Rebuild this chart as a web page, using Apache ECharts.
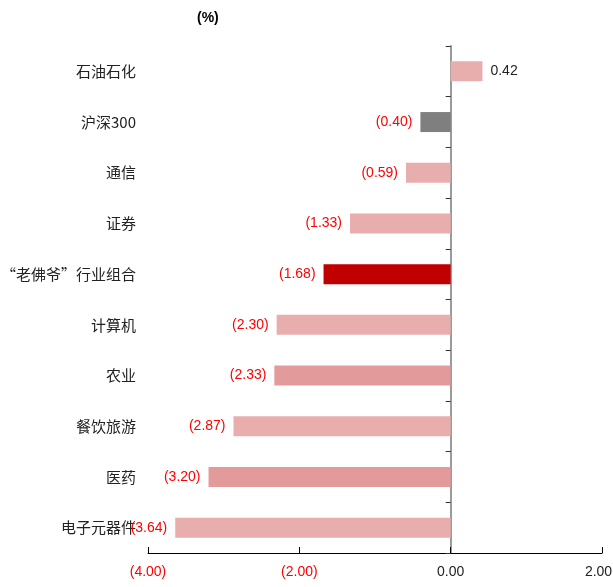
<!DOCTYPE html>
<html>
<head>
<meta charset="utf-8">
<script src="https://cdn.jsdelivr.net/npm/echarts@6/dist/echarts.min.js"></script>
<style>
  html, body { margin: 0; padding: 0; background: #fff; }
  #chart { width: 613px; height: 587px; }
</style>
</head>
<body>
<div id="chart"></div>
<script>
// Weekly returns by sector (%)
const categories = ['石油石化', '沪深300', '通信', '证券', '“老佛爷”行业组合', '计算机', '农业', '餐饮旅游', '医药', '电子元器件'];
const returns = [0.42, -0.40, -0.59, -1.33, -1.68, -2.30, -2.33, -2.87, -3.20, -3.64];
const xTicks = [-4, -2, 0, 2];

const numFont = '"Liberation Sans Narrow", "Arial Narrow", "Liberation Sans", Arial, sans-serif';
const cjkFont = '"Noto Sans CJK SC", sans-serif';

// accounting-style number: negatives in parentheses
function fmt(v) {
  const s = Math.abs(v).toFixed(2);
  return v < 0 ? '(' + s + ')' : s;
}

function barColor(name) {
  if (name === '沪深300') return '#7f7f7f';
  if (name === '“老佛爷”行业组合') return '#c00000';
  if (name === '农业' || name === '医药') return '#e39a9a';
  return '#e8aeae';
}

const xMax = xTicks[xTicks.length - 1];

const chart = echarts.init(document.getElementById('chart'), null, { renderer: 'canvas' });

chart.setOption({
  animation: false,
  graphic: [{
    type: 'text',
    left: 197,
    top: 11,
    style: { text: '(%)', font: 'bold 14px ' + numFont, fill: '#000' }
  }],
  grid: { left: 148, right: 11, top: 46, bottom: 34, containLabel: false, outerBoundsMode: 'none' },
  xAxis: {
    type: 'value',
    min: xTicks[0],
    max: xMax,
    interval: 2,
    splitLine: { show: false },
    axisLine: { show: true, onZero: false, lineStyle: { color: '#000', width: 1 } },
    axisTick: { show: true, inside: true, length: 6, lineStyle: { color: '#000' } },
    axisLabel: {
      margin: 12,
      fontFamily: numFont,
      fontSize: 14,
      // the last label is nudged inward so it stays on the canvas
      formatter: v => (v === xMax ? '{edge|' + fmt(v) + '}' : fmt(v)),
      color: v => (v < 0 ? '#ff0000' : '#222'),
      rich: { edge: { fontFamily: numFont, fontSize: 14, color: '#222', padding: [0, 7, 0, 0] } }
    }
  },
  yAxis: [{
    type: 'category',
    data: categories,
    inverse: true,
    position: 'left',
    axisLine: { show: false, onZero: false },
    axisTick: { show: false },
    axisLabel: { margin: 12, fontFamily: cjkFont, fontSize: 15, color: '#222' }
  }, {
    type: 'category',
    data: categories,
    inverse: true,
    position: 'right',
    axisLine: { show: true, onZero: true, onZeroAxisIndex: 0, lineStyle: { color: '#9a9a9a', width: 2 } },
    axisTick: { show: true, inside: true, length: 5, lineStyle: { color: '#333' } },
    axisLabel: { show: false }
  }],
  series: [{
    type: 'bar',
    yAxisIndex: 0,
    barWidth: 20,
    itemStyle: { color: p => barColor(p.name) },
    label: {
      show: true,
      fontFamily: numFont,
      fontSize: 14,
      distance: 8,
      formatter: p => fmt(p.value)
    },
    // value label sits on the outer end of each bar
    data: returns.map(v => ({
      value: v,
      label: { position: v < 0 ? 'left' : 'right', color: v < 0 ? '#ff0000' : '#222' }
    }))
  }]
});
</script>
</body>
</html>
